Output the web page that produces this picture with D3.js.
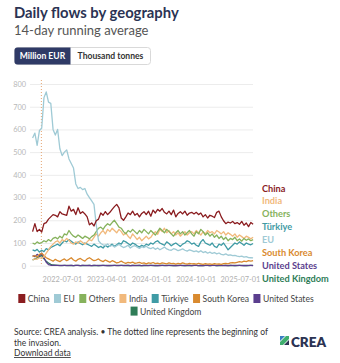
<!DOCTYPE html>
<html>
<head>
<meta charset="utf-8">
<script src="https://cdn.jsdelivr.net/npm/d3@7"></script>
<style>
  html, body { margin: 0; padding: 0; background: #fff; }
  svg { display: block; font-family: Lato, "Noto Sans", sans-serif; }
</style>
</head>
<body>
<svg id="chart" width="340" height="363"></svg>
<script>
// Fortnightly samples of the 14-day running average, million EUR per day
const startDate = "2022-01-01";
const stepDays = 14;

const china = [
  150,185,150,160,148,185,190,205,215,225,
  222,215,238,228,225,222,262,240,248,225,
  255,230,238,228,215,180,188,175,198,205,
  232,222,238,225,235,248,260,270,255,210,
  200,215,232,225,240,222,230,215,230,238,
  225,240,218,245,232,248,240,252,235,228,
  240,225,245,215,230,238,228,240,222,232,
  235,228,235,225,232,215,225,210,222,218,
  212,235,240,215,198,185,192,188,195,185,
  190,182,195,178,188,172,190,182
];
const eu = [
  562,584,530,595,605,740,765,720,715,600,
  575,600,515,485,500,510,470,450,430,360,
  340,345,335,340,315,300,285,270,180,110,
  98,92,88,96,85,90,82,88,94,86,
  80,84,90,78,85,88,82,76,84,80,
  86,78,75,80,72,78,70,76,82,74,
  70,68,75,72,66,70,74,68,64,70,
  66,62,65,60,66,58,62,55,60,54,
  58,52,56,50,48,52,46,48,44,45,
  42,40,42,38,40,36,35,34
];
const others = [
  100,95,105,98,102,110,105,115,108,120,
  125,118,130,122,140,135,155,140,130,125,
  135,128,120,130,125,118,128,135,150,165,
  170,160,175,185,178,190,200,185,170,165,
  150,140,155,148,160,150,140,155,145,160,
  150,140,155,145,135,150,165,155,145,160,
  150,140,130,145,155,140,150,135,145,155,
  140,130,150,140,160,150,135,145,130,140,
  125,135,120,130,115,125,110,120,115,125,
  110,118,108,120,112,118,110,115
];
const india = [
  25,30,28,35,32,40,55,70,85,95,
  105,110,100,115,108,120,112,100,95,105,
  98,110,102,95,105,115,110,125,140,130,
  145,155,140,160,150,165,155,145,160,150,
  135,145,130,120,140,128,115,125,110,120,
  130,118,125,140,150,138,160,150,165,145,
  155,140,150,135,145,130,140,150,135,145,
  150,140,155,145,135,150,140,155,145,150,
  140,155,148,140,150,135,145,138,130,140,
  125,135,128,120,130,125,118,125
];
const turkiye = [
  70,65,72,60,68,62,75,70,80,85,
  90,95,88,100,110,105,115,108,100,95,
  105,98,92,100,95,90,85,95,88,80,
  85,78,90,82,88,95,85,92,100,95,
  110,105,98,90,100,95,88,82,90,85,
  95,90,100,95,105,110,100,95,90,105,
  98,88,95,100,92,85,95,100,110,105,
  95,100,90,85,105,115,100,95,90,100,
  85,80,95,90,100,85,70,80,90,100,
  95,105,98,90,100,95,92,98
];
const southKorea = [
  40,45,38,50,55,45,35,30,25,20,
  28,22,18,25,30,22,28,35,25,20,
  28,32,25,20,30,35,28,22,25,30,
  22,18,25,20,15,22,18,12,15,20,
  14,10,15,12,16,10,12,15,10,12,
  8,12,10,14,9,11,8,12,10,8,
  12,9,10,7,10,8,12,9,7,10,
  8,9,7,10,8,6,9,7,8,6,
  9,7,8,6,9,10,8,12,14,12,
  15,18,16,20,18,22,20,22
];
const unitedStates = [
  45,40,50,42,55,35,15,5,2,1,
  1,1,0,1,1,0,1,1,0,1,
  1,0,1,1,0,1,0,1,1,0,
  1,1,0,1,0,1,1,0,1,1,
  0,1,1,0,1,0,1,1,0,1,
  1,0,1,1,0,1,0,1,1,0,
  1,1,0,1,0,1,1,0,1,1,
  0,1,1,0,1,0,1,1,0,1,
  1,0,1,1,0,1,0,1,1,0,
  1,1,0,1,0,1,1,0
];
const unitedKingdom = [
  25,30,35,40,45,30,20,12,6,3,
  2,1,1,0,1,1,0,1,0,1,
  1,0,1,0,1,1,0,1,0,1,
  0,1,1,0,1,0,1,1,0,1,
  1,0,1,0,1,1,0,1,0,1,
  0,1,1,0,1,0,1,1,0,1,
  1,0,1,0,1,1,0,1,0,1,
  0,1,1,0,1,0,1,1,0,1,
  1,0,1,0,1,1,0,1,0,1,
  0,1,1,0,1,0,1,1
];

const invasionDate = "2022-02-24";
const yTicks = [0, 100, 200, 300, 400, 500, 600, 700, 800];
const xTickLabels = ["2022-07-01", "2023-04-01", "2024-01-01", "2024-10-01", "2025-07-01"];

const series = [
  { name: "China", values: china, color: "#8a1c1f" },
  { name: "EU", values: eu, color: "#9fcad5" },
  { name: "Others", values: others, color: "#86b25c" },
  { name: "India", values: india, color: "#f1b97c" },
  { name: "Türkiye", values: turkiye, color: "#3f9ba5" },
  { name: "South Korea", values: southKorea, color: "#d98a2f" },
  { name: "United States", values: unitedStates, color: "#5b3e8e" },
  { name: "United Kingdom", values: unitedKingdom, color: "#2f7d58" }
];
// order of the end labels at the right of the plot
const labelOrder = ["China", "India", "Others", "Türkiye", "EU", "South Korea", "United States", "United Kingdom"];

const parse = d3.utcParse("%Y-%m-%d");
const t0 = parse(startDate);
const dates = china.map((_, i) => d3.utcDay.offset(t0, i * stepDays));

const svg = d3.select("#chart");
const navy = "#2b3353";

// ---- header ----
svg.append("text").attr("x", 14).attr("y", 18)
  .attr("font-size", 14.8).attr("font-weight", 700).attr("fill", navy)
  .text("Daily flows by geography");
svg.append("text").attr("x", 14).attr("y", 35)
  .attr("font-size", 13).attr("fill", "#555")
  .text("14-day running average");

// unit toggle
const tog = svg.append("g");
tog.append("rect").attr("x", 14.5).attr("y", 47.5).attr("width", 136).attr("height", 17)
  .attr("rx", 3).attr("fill", "#fff").attr("stroke", "#d9d9d9");
tog.append("path")
  .attr("d", "M17.5,47.5 H70.5 V64.5 H17.5 Q14.5,64.5 14.5,61.5 V50.5 Q14.5,47.5 17.5,47.5 Z")
  .attr("fill", "#2f3a66");
tog.append("text").attr("x", 42.5).attr("y", 59.3).attr("text-anchor", "middle")
  .attr("font-size", 8.6).attr("font-weight", 700).attr("fill", "#fff").text("Million EUR");
tog.append("text").attr("x", 110.5).attr("y", 59.3).attr("text-anchor", "middle")
  .attr("font-size", 8.6).attr("font-weight", 700).attr("fill", "#333").text("Thousand tonnes");

// ---- scales ----
const x = d3.scaleUtc()
  .domain([dates[0], dates[dates.length - 1]])
  .range([32.6, 253.1]);
const y = d3.scaleLinear().domain([0, 800]).range([265.7, 84]);

// gridlines and y labels
const yAxis = d3.axisLeft(y).tickValues(yTicks).tickSize(-(253 - 30)).tickPadding(4);
const gy = svg.append("g").attr("transform", "translate(30,0)").call(yAxis);
gy.select(".domain").remove();
gy.selectAll(".tick line").attr("stroke", "#ececec");
gy.selectAll(".tick text").attr("fill", "#b8b8b8").attr("font-size", 7.4)
  .attr("font-family", "Lato, sans-serif");

// x labels
const xAxis = d3.axisBottom(x).tickValues(xTickLabels.map(parse))
  .tickFormat(d3.utcFormat("%Y-%m-%d")).tickSize(0).tickPadding(8);
const gx = svg.append("g").attr("transform", "translate(0,269)").call(xAxis);
gx.select(".domain").remove();
gx.selectAll(".tick text").attr("fill", "#b0b0b0").attr("font-size", 7.4)
  .attr("font-family", "Lato, sans-serif");

// invasion marker
const xi = x(parse(invasionDate));
svg.append("line").attr("x1", xi).attr("x2", xi).attr("y1", 80).attr("y2", 266)
  .attr("stroke", "#e5a572").attr("stroke-width", 1).attr("stroke-dasharray", "1,2");

// ---- lines ----
const line = d3.line().x((d, i) => x(dates[i])).y(d => y(d));
const drawOrder = ["United Kingdom", "United States", "South Korea", "Türkiye", "India", "Others", "EU", "China"];
drawOrder.forEach(n => {
  const s = series.find(d => d.name === n);
  svg.append("path").datum(s.values)
    .attr("fill", "none").attr("stroke", s.color).attr("stroke-width", 1.3)
    .attr("stroke-linejoin", "round").attr("d", line);
});

// ---- right-hand labels ----
labelOrder.forEach((n, k) => {
  const s = series.find(d => d.name === n);
  svg.append("text").attr("x", 262).attr("y", 191.5 + k * 12.9)
    .attr("font-size", 9.2).attr("font-weight", 700).attr("fill", s.color).text(n);
});

// ---- legend ----
const leg = svg.append("g");
const items = series.map(s => {
  const g = leg.append("g");
  g.append("rect").attr("width", 7).attr("height", 9).attr("fill", s.color);
  const t = g.append("text").attr("x", 9.5).attr("y", 8).attr("font-size", 8.6)
    .attr("fill", "#444").text(s.name);
  return { g, w: 9.5 + t.node().getComputedTextLength() };
});
const rows = [[]];
let rowW = 0;
const maxW = 312, gap = 4.5;
items.forEach(it => {
  const add = (rows[rows.length - 1].length ? gap : 0) + it.w;
  if (rowW + add > maxW) { rows.push([it]); rowW = it.w; }
  else { rows[rows.length - 1].push(it); rowW += add; }
});
rows.forEach((r, ri) => {
  const tw = d3.sum(r, d => d.w) + gap * (r.length - 1);
  let cx = 166 - tw / 2;
  r.forEach(it => {
    it.g.attr("transform", `translate(${cx},${294 + ri * 12.6})`);
    cx += it.w + gap;
  });
});

// ---- footer ----
const foot = svg.append("g").attr("font-size", 8.5).attr("fill", "#333");
foot.append("text").attr("x", 14).attr("y", 335)
  .text("Source: CREA analysis. • The dotted line represents the beginning of");
foot.append("text").attr("x", 14).attr("y", 345.5).text("the invasion.");
foot.append("text").attr("x", 14).attr("y", 356).attr("text-decoration", "underline")
  .text("Download data");

// CREA mark
const logo = svg.append("g").attr("transform", "translate(280,336)");
logo.append("path").attr("d", "M0,6 L6,0 L9,0 L9,3 L3,9 L0,9 Z").attr("fill", "#3fae6e");
logo.append("path").attr("d", "M0,0 L5,0 L0,5 Z").attr("fill", "#3a7fc2");
logo.append("path").attr("d", "M9,4 L9,9 L4,9 Z").attr("fill", "#2b3353");
svg.append("text").attr("x", 291).attr("y", 346.5).attr("font-size", 13.5)
  .attr("font-weight", 800).attr("fill", navy).text("CREA");
</script>
</body>
</html>
